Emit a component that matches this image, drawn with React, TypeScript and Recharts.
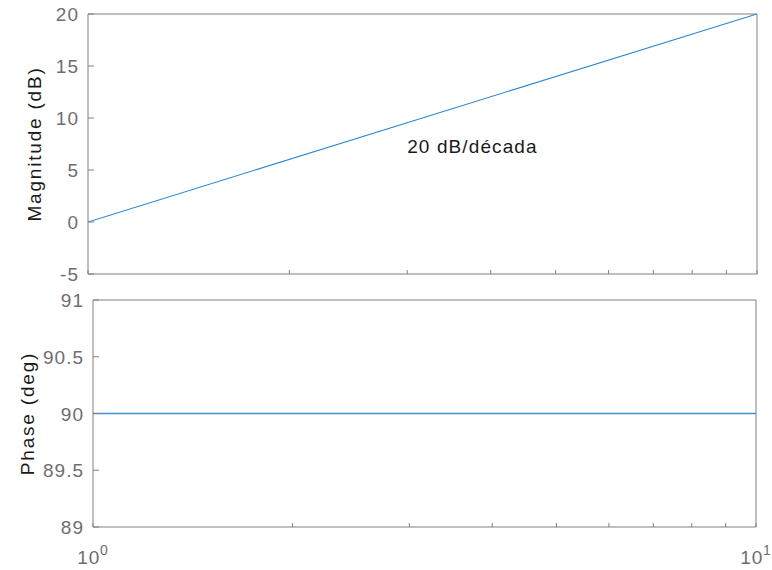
import { LineChart, Line, XAxis, YAxis, ReferenceDot, Label } from 'recharts';

// Bode plot of G(s) = s over one decade
const frequency = [1, 10];
const magnitudeDb = [0, 20];
const phaseDeg = [90, 90];

const freqTicks = [1, 2, 3, 4, 5, 6, 7, 8, 9, 10];
const decadeLabels: Record<number, string> = { 1: '0', 10: '1' };
const magTicks = [-5, 0, 5, 10, 15, 20];
const phaseTicks = [89, 89.5, 90, 90.5, 91];

const FONT = '"Liberation Sans", Arial, Helvetica, sans-serif';
const BOX = '#808080';
const TICK_TEXT = '#6e6e6e';
const LINE = '#2a86cf';

const magData = frequency.map((w, i) => ({ w, mag: magnitudeDb[i] }));
const phaseData = frequency.map((w, i) => ({ w, phase: phaseDeg[i] }));

// inward tick marks, labels drawn by hand (tickSize/tickMargin = 0 puts x,y on the axis line)
function FreqTick(props: any) {
  const { x, y, payload, dir, labels } = props;
  const exp = decadeLabels[payload.value];
  return (
    <g>
      <line x1={x} x2={x} y1={y} y2={y + dir * 4} stroke={BOX} />
      {labels && exp !== undefined && (
        <text x={x} y={y + 37} textAnchor="middle" fill={TICK_TEXT} fontSize={19} fontFamily={FONT} letterSpacing={0.8}>
          10<tspan dy={-9} fontSize={14}>{exp}</tspan>
        </text>
      )}
    </g>
  );
}

function ValueTick(props: any) {
  const { x, y, payload, dir, labels } = props;
  return (
    <g>
      <line x1={x} x2={x + dir * 6} y1={y} y2={y} stroke={BOX} />
      {labels && (
        <text x={x - 9} y={y} dy={7} textAnchor="end" fill={TICK_TEXT} fontSize={19} fontFamily={FONT} letterSpacing={1}>
          {String(payload.value)}
        </text>
      )}
    </g>
  );
}

function yLabel(text: string, baselineX: number) {
  return (p: any) => {
    const cy = p.viewBox.y + p.viewBox.height / 2;
    return (
      <text
        x={baselineX}
        y={cy}
        transform={`rotate(-90, ${baselineX}, ${cy})`}
        textAnchor="middle"
        fill="#1a1a1a"
        fontSize={19}
        fontFamily={FONT}
        letterSpacing={1.8}
      >
        {text}
      </text>
    );
  };
}

function freqAxes(showLabels: boolean, topH: number, bottomH: number) {
  return [
    <XAxis
      key="bx"
      dataKey="w"
      type="number"
      scale="log"
      domain={[1, 10]}
      ticks={freqTicks}
      allowDataOverflow
      height={bottomH}
      tickSize={0}
      tickMargin={0}
      tickLine={false}
      axisLine={{ stroke: BOX }}
      interval={0}
      tick={(p: any) => <FreqTick {...p} dir={-1} labels={showLabels} />}
    />,
    <XAxis
      key="tx"
      xAxisId="top"
      orientation="top"
      type="number"
      scale="log"
      domain={[1, 10]}
      ticks={freqTicks}
      allowDataOverflow
      height={topH}
      tickSize={0}
      tickMargin={0}
      tickLine={false}
      axisLine={{ stroke: BOX }}
      interval={0}
      tick={(p: any) => <FreqTick {...p} dir={1} labels={false} />}
    />,
  ];
}

export default function App() {
  return (
    <div style={{ position: 'absolute', left: 0, top: 0, width: 772, height: 570, background: '#fff' }}>
      <div style={{ position: 'absolute', left: 0, top: 0 }}>
        <LineChart width={772} height={290} data={magData} margin={{ top: 0, right: 0, bottom: 0, left: 0 }}>
          {freqAxes(false, 14, 16)}
          <YAxis
            type="number"
            domain={[-5, 20]}
            ticks={magTicks}
            width={88}
            tickSize={0}
            tickMargin={0}
            tickLine={false}
            axisLine={{ stroke: BOX }}
            interval={0}
            tick={(p: any) => <ValueTick {...p} dir={1} labels />}
          >
            <Label content={yLabel('Magnitude (dB)', 41)} />
          </YAxis>
          <YAxis
            yAxisId="right"
            orientation="right"
            type="number"
            domain={[-5, 20]}
            ticks={magTicks}
            width={15}
            tickSize={0}
            tickMargin={0}
            tickLine={false}
            axisLine={{ stroke: BOX }}
            interval={0}
            tick={(p: any) => <ValueTick {...p} dir={-1} labels={false} />}
          />
          <Line dataKey="mag" stroke={LINE} strokeWidth={1.1} dot={false} isAnimationActive={false} />
          <ReferenceDot
            x={3}
            y={6.65}
            r={0}
            shape={(p: any) => (
              <text x={p.cx} y={p.cy} fill="#1a1a1a" fontSize={19} fontFamily={FONT} letterSpacing={1.1}>
                20 dB/década
              </text>
            )}
          />
        </LineChart>
      </div>
      <div style={{ position: 'absolute', left: 0, top: 290 }}>
        <LineChart width={772} height={280} data={phaseData} margin={{ top: 0, right: 0, bottom: 0, left: 0 }}>
          {freqAxes(true, 10, 43)}
          <YAxis
            type="number"
            domain={[89, 91]}
            ticks={phaseTicks}
            width={93}
            tickSize={0}
            tickMargin={0}
            tickLine={false}
            axisLine={{ stroke: BOX }}
            interval={0}
            tick={(p: any) => <ValueTick {...p} dir={1} labels />}
          >
            <Label content={yLabel('Phase (deg)', 34)} />
          </YAxis>
          <YAxis
            yAxisId="right"
            orientation="right"
            type="number"
            domain={[89, 91]}
            ticks={phaseTicks}
            width={16}
            tickSize={0}
            tickMargin={0}
            tickLine={false}
            axisLine={{ stroke: BOX }}
            interval={0}
            tick={(p: any) => <ValueTick {...p} dir={-1} labels={false} />}
          />
          <Line dataKey="phase" stroke="#3d94d6" strokeWidth={1.5} dot={false} isAnimationActive={false} />
        </LineChart>
      </div>
    </div>
  );
}
